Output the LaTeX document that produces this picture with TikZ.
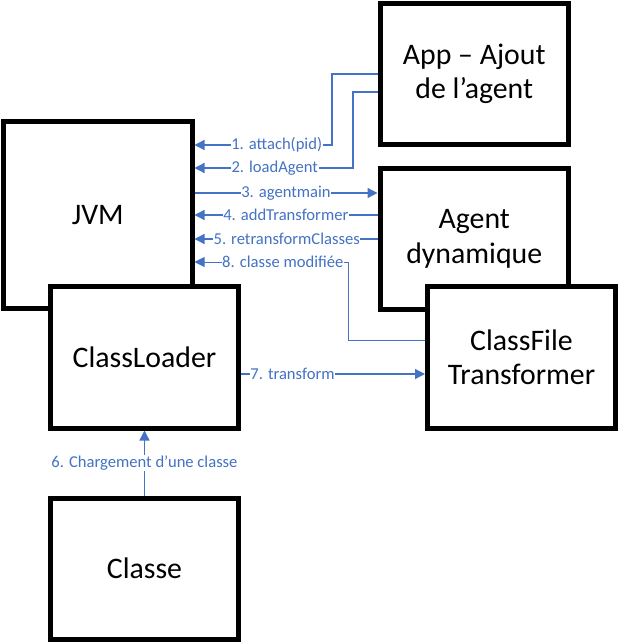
\documentclass[tikz,border=0pt]{standalone}
\usepackage{fontspec}
\setmainfont{Carlito}
\usetikzlibrary{arrows.meta}
\definecolor{lnk}{HTML}{4472C4}
\begin{document}
\begin{tikzpicture}[x=1pt,y=-1pt,
  box/.style={draw=black, line width=5pt, fill=white, inner sep=0pt, outer sep=2.5pt,
    align=center, font=\fontsize{29.8}{34.5}\selectfont},
  conn/.style={draw=lnk, line width=1.3pt},
  arr/.style={conn, -{Triangle[length=10pt,width=10pt]}},
  lab/.style={fill=white, text=lnk, inner xsep=0.6pt, inner ysep=0.5pt,
    font=\fontsize{16.6}{18}\selectfont}]
\useasboundingbox (0,0) rectangle (619,643);
% boxes
\node[box, minimum width=188.5pt, minimum height=186.5pt] (jvm) at (97.75,214.75) {JVM};
\node[box, minimum width=187.5pt, minimum height=142pt] (cl) at (144.5,357) {ClassLoader};
\node[box, minimum width=188.5pt, minimum height=141pt] (app) at (474.25,74) {App – Ajout\\de l’agent};
\node[box, minimum width=188.5pt, minimum height=140.5pt] (agent) at (474.25,238.75) {Agent\\dynamique};
\node[box, minimum width=188pt, minimum height=141.5pt] (cft) at (521.5,357.25) {ClassFile\\Transformer};
\node[box, minimum width=188.5pt, minimum height=141pt] (classe) at (144.5,568.5) {Classe};
% connectors
\draw[arr] (app.west |- 0,74) -- (332,74) -- (332,145) -- (jvm.east |- 0,145);
\draw[arr] (app.west |- 0,92) -- (353,92) -- (353,168) -- (jvm.east |- 0,168);
\draw[arr] (jvm.east |- 0,193) -- (agent.west |- 0,193);
\draw[arr] (agent.west |- 0,215) -- (jvm.east |- 0,215);
\draw[arr] (agent.west |- 0,239) -- (jvm.east |- 0,239);
\draw[arr, line width=1pt] (cft.west |- 0,340) -- (348,340) -- (348,262) -- (jvm.east |- 0,262);
\draw[arr] (cl.east |- 0,374) -- (cft.west |- 0,374);
\draw[arr] (classe.north) -- (cl.south);
% labels
\node[lab] (l1) at (276.7,145) {1. attach(pid)};
\node[lab] (l2) at (274.8,168) {2. loadAgent};
\node[lab] (l3) at (286,193) {3. agentmain};
\node[lab] (l4) at (285.8,215) {4. addTransformer};
\node[lab] (l5) at (286.7,239) {5. retransformClasses};
\node[lab] (l8) at (282.8,262) {8. classe modifiée};
\node[lab] (l7) at (292.5,374) {7. transform};
\node[lab] (l6) at (144.5,463) {6. Chargement d’une classe};
\end{tikzpicture}
\end{document}
